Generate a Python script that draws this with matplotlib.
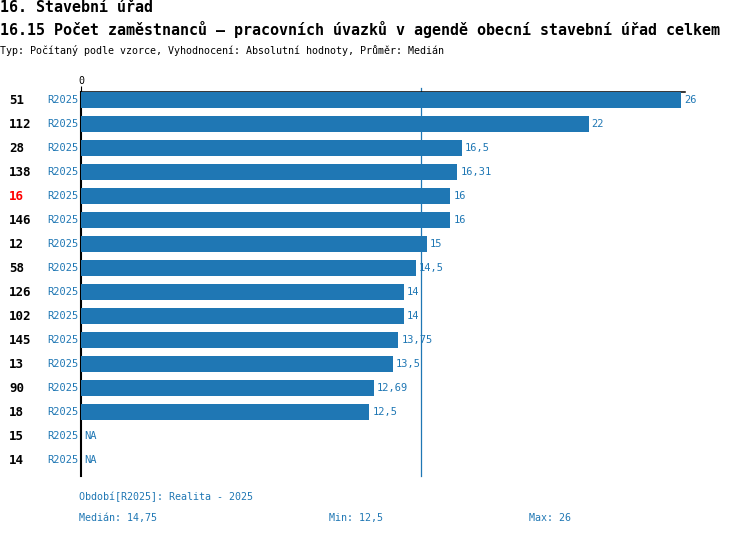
import numpy as np
import matplotlib
matplotlib.use("Agg")
import matplotlib.pyplot as plt
from matplotlib.transforms import offset_copy, blended_transform_factory

ids = ["51", "112", "28", "138", "16", "146", "12", "58", "126", "102", "145", "13", "90", "18", "15", "14"]
periods = ["R2025"] * 16
values = [26, 22, 16.5, 16.31, 16, 16, 15, 14.5, 14, 14, 13.75, 13.5, 12.69, 12.5, np.nan, np.nan]
highlight = "16"
median_val = 14.75
min_val = 12.5
max_val = 26

title1 = "16. Stavební úřad"
title2 = "16.15 Počet zaměstnanců – pracovních úvazků v agendě obecní stavební úřad celkem"
subtitle = "Typ: Počítaný podle vzorce, Vyhodnocení: Absolutní hodnoty, Průměr: Medián"
period_note = "Období[R2025]: Realita - 2025"

BLUE = "#1f77b4"
MONO = ["DejaVu Sans Mono"]

W, H = 750, 536
fig = plt.figure(figsize=(W / 100, H / 100), dpi=100)

def fx(px):
    return px / W

def fy(py):
    return 1 - py / H

# header texts
fig.text(fx(0), fy(8), title1, family=MONO, fontsize=10.8, fontweight="bold", va="center", ha="left")
fig.text(fx(0), fy(30), title2, family=MONO, fontsize=10.8, fontweight="bold", va="center", ha="left")
fig.text(fx(0), fy(50), subtitle, family=MONO, fontsize=7.2, va="center", ha="left")

ax_left, ax_right, ax_top, ax_bottom = 81, 685, 92, 476
ax = fig.add_axes([fx(ax_left), fy(ax_bottom), fx(ax_right - ax_left), (ax_bottom - ax_top) / H])

scale = 600 / 26.0  # px per unit
ax.set_xlim(0, (ax_right - ax_left) / scale)
n = len(ids)
ax.set_ylim(n - 1 + 16 / 24, -8 / 24)

y = np.arange(n)
vals = np.array(values, dtype=float)
mask = ~np.isnan(vals)
ax.barh(y[mask], vals[mask], height=0.67, color=BLUE, zorder=3)

# median line
ax.axvline(median_val, ymin=0, ymax=1 + 4 / 384, color=BLUE, lw=0.9, zorder=1, clip_on=False)

# value labels
for yi, v in zip(y, vals):
    if np.isnan(v):
        lab, xpos = "NA", 0
    else:
        lab, xpos = f"{v:g}".replace(".", ","), v
    tr = offset_copy(ax.transData, fig=fig, x=3, y=0, units="dots")
    ax.text(xpos, yi, lab, transform=tr, family=MONO, fontsize=7.5, color=BLUE,
            va="center", ha="left", zorder=4)

# left labels
bt = blended_transform_factory(fig.transFigure, ax.transData)
for yi, idv, per in zip(y, ids, periods):
    ax.text(fx(9), yi, idv, transform=bt, family=MONO, fontsize=9.0, fontweight="bold",
            color="red" if idv == highlight else "black", va="center", ha="left")
    ax.text(fx(78.5), yi, per, transform=bt, family=MONO, fontsize=7.5, color=BLUE,
            va="center", ha="right")

# spines and ticks
for s in ["right", "bottom"]:
    ax.spines[s].set_visible(False)
ax.spines["left"].set_linewidth(1.5)
ax.spines["left"].set_color("black")
ax.spines["top"].set_linewidth(1.1)
ax.spines["top"].set_color("black")
ax.xaxis.tick_top()
ax.set_xticks([0])
ax.set_xticklabels(["0"], family=MONO, fontsize=7.2)
ax.tick_params(axis="x", length=4, width=0.8, pad=0, direction="out")
ax.set_yticks([])
ax.set_facecolor("none")

# bottom notes
fig.text(fx(79), fy(497), period_note, family=MONO, fontsize=7.2, color=BLUE, va="center", ha="left")
fig.text(fx(79), fy(518), "Medián: " + f"{median_val:g}".replace(".", ","), family=MONO, fontsize=7.2,
         color=BLUE, va="center", ha="left")
fig.text(fx(329), fy(518), "Min: " + f"{min_val:g}".replace(".", ","), family=MONO, fontsize=7.2,
         color=BLUE, va="center", ha="left")
fig.text(fx(529), fy(518), "Max: " + f"{max_val:g}".replace(".", ","), family=MONO, fontsize=7.2,
         color=BLUE, va="center", ha="left")

fig.savefig("out.png", dpi=100)
